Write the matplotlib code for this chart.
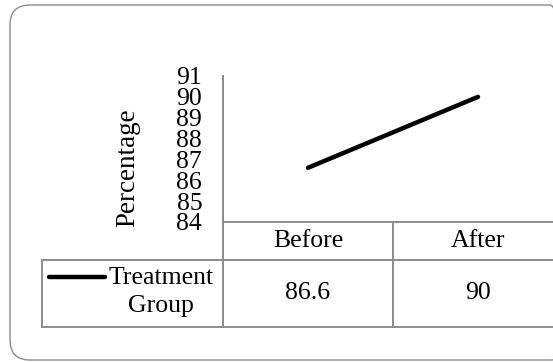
import matplotlib
matplotlib.use("Agg")
import matplotlib.pyplot as plt
from matplotlib.patches import FancyBboxPatch
from matplotlib.lines import Line2D
from matplotlib.transforms import IdentityTransform, blended_transform_factory

# data
categories = ["Before", "After"]
series_name = "Treatment\nGroup"
values = [86.6, 90]
y_ticks = [84, 85, 86, 87, 88, 89, 90, 91]

W, H = 553, 362
plt.rcParams["font.family"] = ["Liberation Serif", "DejaVu Serif"]
fs = 18.5
grid_c = "#8c8c8c"

fig = plt.figure(figsize=(W / 100, H / 100), dpi=100)
pix = IdentityTransform()


def Y(y):
    # rows measured from the top edge
    return H - y


# rounded outer frame
frame = FancyBboxPatch((10, Y(360)), 560, 355, boxstyle="round,pad=0,rounding_size=20",
                       transform=pix, fc="none", ec=grid_c, lw=1.0)
fig.add_artist(frame)

ax = fig.add_axes([223 / W, Y(222) / H, 340 / W, 146 / H])
ax.set_facecolor("none")
x = list(range(len(categories)))
ax.plot(x, values, color="black", lw=3.2, solid_capstyle="round")
ax.set_xlim(-0.5, len(categories) - 0.5)
ax.set_ylim(y_ticks[0], y_ticks[-1])
ax.set_yticks(y_ticks)
ax.set_yticklabels([str(t) for t in y_ticks], fontsize=fs)
ax.set_xticks([])
ax.tick_params(axis="y", length=0, pad=15)
for s in ["top", "right"]:
    ax.spines[s].set_visible(False)
for s in ["left", "bottom"]:
    ax.spines[s].set_color(grid_c)
    ax.spines[s].set_linewidth(1.4)

fig.text(128 / W, Y(168) / H, "Percentage", rotation=90, ha="center", va="center",
         fontsize=fs + 1)

# data table under the plot
tr = blended_transform_factory(ax.transData, pix)
for yy in (260, 327):
    fig.add_artist(Line2D([42, W + 20], [Y(yy), Y(yy)], transform=pix, color=grid_c, lw=1.4))
fig.add_artist(Line2D([42, 42], [Y(260), Y(327)], transform=pix, color=grid_c, lw=1.4))
for xb in [i - 0.5 for i in range(len(categories) + 1)]:
    fig.add_artist(Line2D([xb, xb], [Y(222), Y(327)], transform=tr, color=grid_c, lw=1.4))

for i, (c, v) in enumerate(zip(categories, values)):
    fig.text(i, Y(241), c, transform=tr, ha="center", va="center", fontsize=fs)
    fig.text(i, Y(293), f"{v:g}", transform=tr, ha="center", va="center", fontsize=fs)

fig.add_artist(Line2D([49, 105], [Y(277), Y(277)], transform=pix, color="black", lw=3.2,
                      solid_capstyle="round"))
fig.text(161, Y(292), series_name, transform=pix, ha="center", va="center",
         multialignment="center", fontsize=fs, linespacing=1.4)

fig.savefig("out.png", dpi=100)
